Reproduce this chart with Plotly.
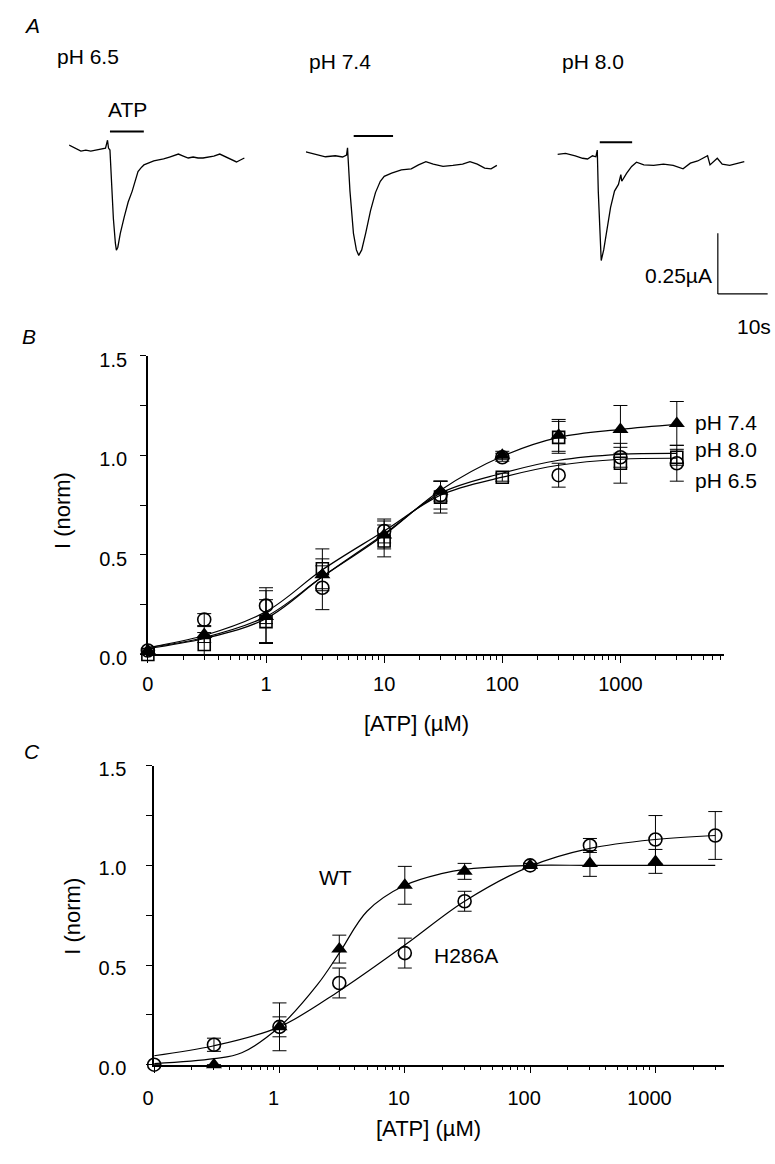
import plotly.graph_objects as go

W, H = 775, 1164
FONT = "Liberation Sans, Arial, Helvetica, sans-serif"

# ---------------- Panel A: current traces (time s, current uA) ----------------
t_65 = [0, 0.79, 1.58, 2.37, 3.36, 4.35, 5.34, 6.32, 7.31, 7.71, 7.91, 8.20, 8.50, 8.89, 9.29, 9.49,
        9.78, 10.28, 11.07, 11.86, 12.65, 13.24, 13.83, 14.43, 15.02, 16.01, 17.00, 17.98, 18.97,
        20.16, 21.15, 21.94, 22.92, 23.91, 24.90, 25.89, 26.88, 27.87, 29.05, 30.24, 31.03, 31.82,
        32.81, 33.60, 34.39, 35.18]
i_65 = [0.040, 0.032, 0.024, 0.016, 0.020, 0.016, 0.020, 0.024, 0.028, 0.060, 0.028, 0.020, -0.119,
        -0.258, -0.357, -0.385, -0.373, -0.317, -0.250, -0.190, -0.147, -0.103, -0.067, -0.052,
        -0.040, -0.032, -0.024, -0.020, -0.016, -0.008, 0.000, 0.004, -0.004, -0.012, -0.008,
        -0.012, -0.012, -0.008, -0.004, 0.004, -0.004, -0.012, -0.020, -0.028, -0.020, -0.012]

t_74 = [0, 1.98, 3.93, 5.91, 7.37, 8.16, 8.36, 8.46, 8.85, 9.55, 10.14, 10.61, 11.21, 12.00, 12.98,
        13.97, 14.94, 15.73, 17.21, 19.17, 21.15, 22.61, 24.09, 25.57, 27.53, 29.51, 31.46, 32.94,
        34.41, 35.89, 37.17, 38.34]
i_74 = [0.013, 0.003, -0.007, -0.003, -0.008, 0.000, 0.029, -0.007, -0.146, -0.317, -0.384, -0.406,
        -0.384, -0.317, -0.225, -0.152, -0.106, -0.086, -0.073, -0.060, -0.056, -0.040, -0.027,
        -0.037, -0.046, -0.042, -0.037, -0.027, -0.037, -0.053, -0.056, -0.042]

t_80 = [0, 1.62, 3.58, 5.06, 6.05, 7.04, 7.71, 8.00, 8.20, 8.50, 8.79, 9.29, 9.98, 10.67, 11.46,
        12.25, 12.73, 12.92, 13.91, 14.90, 15.87, 17.35, 19.31, 21.28, 23.24, 25.22, 26.68, 28.16,
        30.14, 30.63, 32.09, 33.08, 34.57, 36.03, 37.51]
i_80 = [0.003, 0.007, -0.003, -0.013, -0.016, -0.003, -0.007, 0.020, -0.146, -0.331, -0.427, -0.384,
        -0.304, -0.212, -0.146, -0.119, -0.079, -0.106, -0.073, -0.046, -0.029, -0.040, -0.042,
        -0.037, -0.042, -0.056, -0.033, -0.024, -0.003, -0.040, -0.013, -0.037, -0.042, -0.033,
        -0.027]

trace_labels = ["pH 6.5", "pH 7.4", "pH 8.0"]
atp_on = [8.2, 9.6, 8.5]
atp_off = [15.0, 17.5, 15.0]

# ---------------- Panel B: concentration-response at three pH ----------------
conc_b = [0.1, 0.3, 1, 3, 10, 30, 100, 300, 1000, 3000]
ph74_mean = [0.02, 0.10, 0.19, 0.40, 0.60, 0.82, 1.00, 1.10, 1.13, 1.16]
ph74_err = [0.01, 0.04, 0.13, 0.08, 0.07, 0.05, 0.02, 0.08, 0.12, 0.11]
ph80_mean = [0.00, 0.05, 0.165, 0.43, 0.57, 0.79, 0.89, 1.09, 0.96, 0.99]
ph80_err = [0.01, 0.06, 0.11, 0.10, 0.08, 0.08, 0.02, 0.08, 0.10, 0.04]
ph65_mean = [0.02, 0.175, 0.245, 0.335, 0.62, 0.80, 0.99, 0.90, 0.99, 0.96]
ph65_err = [0.01, 0.03, 0.09, 0.11, 0.06, 0.07, 0.02, 0.06, 0.05, 0.09]

fit_x_b = [0.1, 0.3, 1, 3, 10, 30, 100, 300, 1000, 3000]
fit_ph74 = [0.035, 0.085, 0.19, 0.39, 0.60, 0.825, 0.995, 1.09, 1.13, 1.155]
fit_ph80 = [0.030, 0.080, 0.18, 0.39, 0.605, 0.81, 0.91, 0.975, 1.005, 1.01]
fit_ph65 = [0.035, 0.095, 0.215, 0.425, 0.62, 0.80, 0.89, 0.95, 0.98, 0.985]

# ---------------- Panel C: WT vs H286A ----------------
conc_c = [0.1, 0.3, 1, 3, 10, 30, 100, 300, 1000, 3000]
h286a_mean = [0.0, 0.10, 0.19, 0.41, 0.56, 0.82, 1.0, 1.10, 1.13, 1.15]
h286a_err = [0.0, 0.033, 0.05, 0.075, 0.075, 0.05, 0.01, 0.035, 0.12, 0.12]
conc_wt = [0.3, 1, 3, 10, 30, 100, 300, 1000]
wt_mean = [0.0, 0.19, 0.58, 0.90, 0.97, 1.0, 1.01, 1.02]
wt_err = [0.0, 0.12, 0.07, 0.095, 0.04, 0.01, 0.065, 0.06]

fit_x_wt = [0.1, 0.3, 0.5, 1, 2, 3, 5, 10, 20, 30, 100, 300, 1000, 3000]
fit_wt = [0.005, 0.03, 0.06, 0.19, 0.40, 0.56, 0.77, 0.90, 0.96, 0.98, 1.0, 1.0, 1.0, 1.0]
fit_x_h = [0.1, 0.3, 1, 3, 10, 30, 100, 300, 1000, 3000]
fit_h286a = [0.045, 0.095, 0.19, 0.37, 0.60, 0.82, 0.995, 1.085, 1.13, 1.15]


def px(x):
    return x / W


def py(y):
    return 1 - y / H


fig = go.Figure()

# ---- Panel A traces
for k, (tt, ii) in enumerate([(t_65, i_65), (t_74, i_74), (t_80, i_80)]):
    ax = str(k + 3)
    fig.add_trace(go.Scatter(x=tt, y=ii, mode="lines", line=dict(color="black", width=1.3),
                             xaxis="x" + ax, yaxis="y" + ax, showlegend=False, hoverinfo="skip"))

# ---- Panel B
ERR = dict(type="data", color="black", thickness=1, width=7)
for fy in (fit_ph74, fit_ph80, fit_ph65):
    fig.add_trace(go.Scatter(x=fit_x_b, y=fy, mode="lines", line=dict(color="black", width=1.2, shape="spline"),
                             xaxis="x", yaxis="y", showlegend=False, hoverinfo="skip"))
fig.add_trace(go.Scatter(x=conc_b, y=ph74_mean, mode="markers", error_y=dict(array=ph74_err, **ERR),
                         marker=dict(symbol="triangle-up", size=14, color="black"),
                         xaxis="x", yaxis="y", showlegend=False, cliponaxis=False))
fig.add_trace(go.Scatter(x=conc_b, y=ph65_mean, mode="markers", error_y=dict(array=ph65_err, **ERR),
                         marker=dict(symbol="circle-open", size=13, color="black", line=dict(width=1.6)),
                         xaxis="x", yaxis="y", showlegend=False, cliponaxis=False))
fig.add_trace(go.Scatter(x=conc_b, y=ph80_mean, mode="markers", error_y=dict(array=ph80_err, **ERR),
                         marker=dict(symbol="square-open", size=12, color="black", line=dict(width=1.6)),
                         xaxis="x", yaxis="y", showlegend=False, cliponaxis=False))

# ---- Panel C
fig.add_trace(go.Scatter(x=fit_x_wt, y=fit_wt, mode="lines", line=dict(color="black", width=1.2, shape="spline"),
                         xaxis="x2", yaxis="y2", showlegend=False, hoverinfo="skip"))
fig.add_trace(go.Scatter(x=fit_x_h, y=fit_h286a, mode="lines", line=dict(color="black", width=1.2, shape="spline"),
                         xaxis="x2", yaxis="y2", showlegend=False, hoverinfo="skip"))
fig.add_trace(go.Scatter(x=conc_wt, y=wt_mean, mode="markers", error_y=dict(array=wt_err, **ERR),
                         marker=dict(symbol="triangle-up", size=14, color="black"),
                         xaxis="x2", yaxis="y2", showlegend=False, cliponaxis=False))
fig.add_trace(go.Scatter(x=conc_c, y=h286a_mean, mode="markers", error_y=dict(array=h286a_err, **ERR),
                         marker=dict(symbol="circle-open", size=13, color="black", line=dict(width=1.6)),
                         xaxis="x2", yaxis="y2", showlegend=False, cliponaxis=False))

major_x = [0.1, 1, 10, 100, 1000]
major_x_text = ["0", "1", "10", "100", "1000"]
minor_x = [m * d for d in (0.1, 1, 10, 100, 1000) for m in range(2, 10)]
major_y = [0, 0.5, 1.0, 1.5]
major_y_text = ["0.0", "0.5", "1.0", "1.5"]


def xax(domain, rng, standoff, shift):
    return dict(domain=domain, type="log", range=rng, showline=True, linecolor="black", linewidth=1.5,
                ticks="outside", ticklen=7, tickwidth=1.2, tickcolor="black",
                tickmode="array", tickvals=major_x, ticktext=major_x_text,
                ticklabelstandoff=standoff, ticklabelshift=shift,
                minor=dict(tickmode="array", tickvals=minor_x, ticks="outside", ticklen=4,
                           tickwidth=1, tickcolor="black", showgrid=False),
                showgrid=False, zeroline=False,
                tickfont=dict(family=FONT, size=20, color="black"))


def yax(domain, anchor, standoff, shift):
    return dict(domain=domain, range=[0, 1.5], anchor=anchor, showline=True, linecolor="black",
                linewidth=1.5, ticks="outside", ticklen=6, tickwidth=1.2, tickcolor="black",
                tickmode="array", tickvals=major_y, ticktext=major_y_text,
                ticklabelstandoff=standoff, ticklabelshift=shift,
                minor=dict(tickmode="array", tickvals=[0.25, 0.75, 1.25], ticks="outside", ticklen=6,
                           tickwidth=1.2, tickcolor="black", showgrid=False),
                showgrid=False, zeroline=False,
                tickfont=dict(family=FONT, size=20, color="black"))


A_RANGE = [0, 43.6]
A_WIDTH = 43.6 * 5.06
a_starts = [58, 298.5, 554]
hidden = dict(visible=False, showgrid=False, zeroline=False)

layout = dict(
    width=W, height=H, margin=dict(l=0, r=0, t=0, b=0),
    paper_bgcolor="white", plot_bgcolor="white",
    font=dict(family=FONT, size=20, color="black"),
    xaxis=xax([px(138), px(723)], [-1, 3.875], 4, 0) | dict(anchor="y"),
    yaxis=yax([py(659.5), py(354.7)], "x", 9, 4),
    xaxis2=xax([px(144.4), px(723.6)], [-1, 3.55], 8, -6) | dict(anchor="y2"),
    yaxis2=yax([py(1078), py(773)], "x2", 16, 3),
)
for k, s in enumerate(a_starts):
    n = str(k + 3)
    layout["xaxis" + n] = dict(hidden, domain=[px(s), min(1.0, px(s + A_WIDTH))], range=A_RANGE, anchor="y" + n)
    layout["yaxis" + n] = dict(hidden, domain=[py(300), py(120)], range=[-0.595, 0.119], anchor="x" + n)
fig.update_layout(**layout)

# ATP application bars
atp_levels = [0.095, 0.077, 0.052]
for k in range(3):
    n = str(k + 3)
    fig.add_shape(type="line", xref="x" + n, yref="y" + n, x0=atp_on[k], x1=atp_off[k],
                  y0=atp_levels[k], y1=atp_levels[k], line=dict(color="black", width=2))

# scale bar (10 s, 0.25 uA) on the last trace's axes
sb_t, sb_i = 32.2, -0.317
fig.add_shape(type="line", xref="x5", yref="y5", x0=sb_t, x1=sb_t, y0=sb_i, y1=sb_i - 0.245,
              line=dict(color="black", width=1.2))
fig.add_shape(type="line", xref="x5", yref="y5", x0=sb_t, x1=sb_t + 10, y0=sb_i - 0.245, y1=sb_i - 0.245,
              line=dict(color="black", width=1.2))


def ann(text, x, y, size=21, xanchor="center", italic=False, angle=0):
    t = f"<i>{text}</i>" if italic else text
    fig.add_annotation(text=t, x=px(x), y=py(y), xref="paper", yref="paper", showarrow=False,
                       xanchor=xanchor, yanchor="middle", textangle=angle,
                       font=dict(family=FONT, size=size, color="black"))


ann("A", 20.5, 18, italic=True)
ann("B", 17, 335, italic=True)
ann("C", 20, 758, italic=True)
ann(trace_labels[0], 77.5, 49)
ann(trace_labels[1], 333, 55)
ann(trace_labels[2], 590, 55)
ann("ATP", 117, 103.5)
ann("0.25µA", 713, 273, xanchor="right")
ann("10s", 754, 325)

ann("pH 7.4", 692, 423, xanchor="left")
ann("pH 8.0", 692, 450, xanchor="left")
ann("pH 6.5", 692, 482, xanchor="left")
ann("[ATP] (µM)", 411, 730, size=22)
ann("I (norm)", 52, 513, size=22, angle=-90)

ann("WT", 329, 887)
ann("H286A", 427, 967, xanchor="left")
ann("[ATP] (µM)", 423, 1143, size=22)
ann("I (norm)", 62, 927, size=22, angle=-90)

fig.write_html("out.html", config={"displayModeBar": False},
               post_script="document.body.style.margin='0px';document.body.style.overflow='hidden';")
